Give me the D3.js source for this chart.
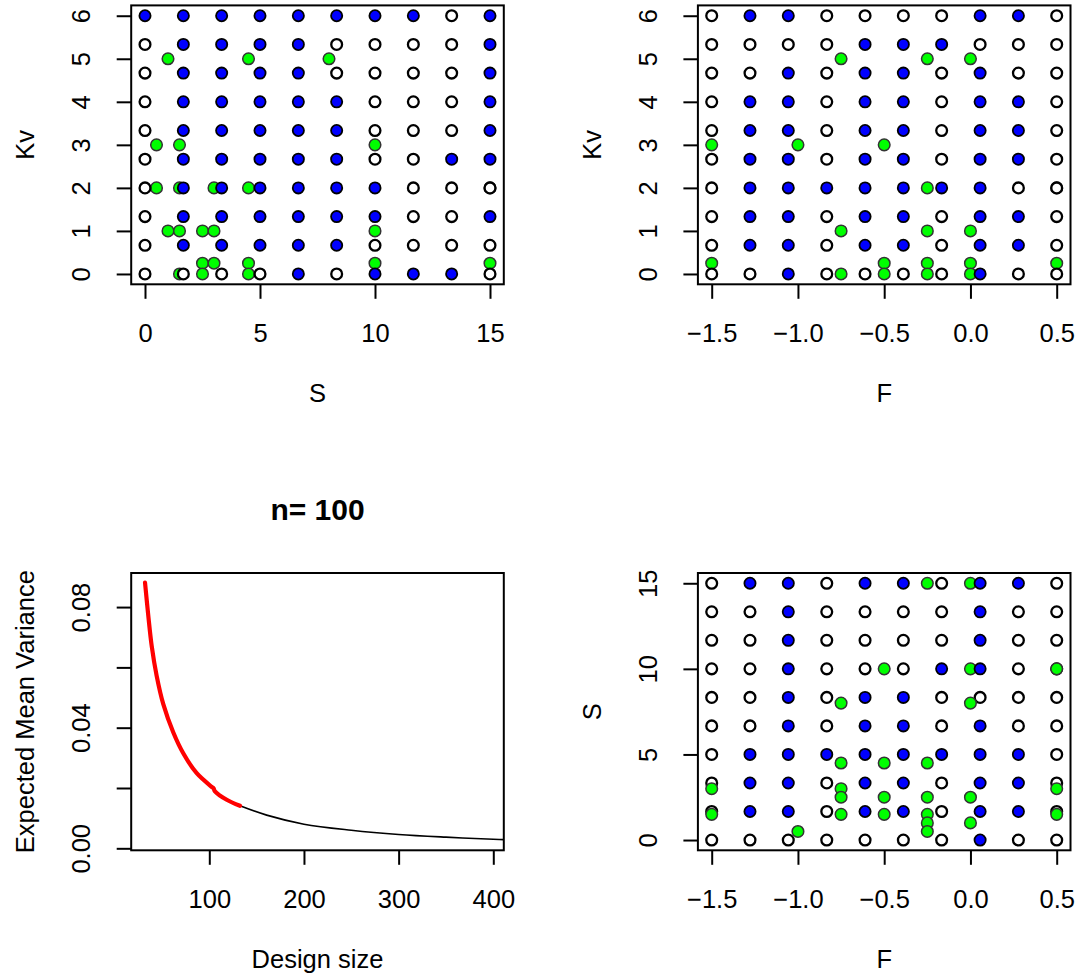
<!DOCTYPE html>
<html>
<head>
<meta charset="utf-8">
<script src="https://cdn.jsdelivr.net/npm/d3@7"></script>
<style>
  body { margin: 0; background: #fff; }
  svg { display: block; font-family: "Liberation Sans", Arial, Helvetica, sans-serif; }
</style>
</head>
<body>
<svg id="chart" width="1078" height="978"></svg>
<script>
// ---------------- data ----------------
const S_LEVELS  = [0, 1.667, 3.333, 5, 6.667, 8.333, 10, 11.667, 13.333, 15];
const KV_LEVELS = [0, 0.667, 1.333, 2, 2.667, 3.333, 4, 4.667, 5.333, 6];
const F_LEVELS  = [-1.5, -1.278, -1.056, -0.833, -0.611, -0.389, -0.167, 0.056, 0.278, 0.5];

// grid state: rows from highest y-level (top) to lowest, columns by x-level; B = blue, W = open
const GRID_S_KV = [
  "BBBBBBBBWB",
  "WBBBBWWWWB",
  "WBBBBWWWWB",
  "WBBBBBWWWB",
  "WBBBBBWWWB",
  "WBBBBBWWBB",
  "WBBBBBBWWW",
  "WBBBBBBWWB",
  "WBBBBBWWWW",
  "WWWWBWBBBW"
];
const GRID_F_KV = [
  "WBBWWWWBBW",
  "WWWWBBBWWW",
  "WWBWBBWBWW",
  "WBBWBBWBBW",
  "WBBWBBWBBW",
  "WBBWBBWBBW",
  "WBBBBBBBWW",
  "WBBWBBWBBW",
  "WBBWBBWBBW",
  "WWBWWWWBWW"
];
const GRID_F_S = [
  "WBBWBBWBBW",
  "WWBWWWWBWW",
  "WWBWWWWBWW",
  "WWBWWWBBWW",
  "WWBWBBWWWW",
  "WWBWBBWBWW",
  "WBBBBBBBBW",
  "WBBWBBWBBW",
  "WBBWBBWBBW",
  "WWWWWWWBWW"
];

// design points (green)
const GREEN_S_KV = [[1,5],[4.5,5],[8,5],[0.5,3],[1.5,3],[10,3],[0.5,2],[1.5,2],[3,2],[4.5,2],[15,2],
  [1,1],[1.5,1],[2.5,1],[3,1],[10,1],[2.5,0.25],[3,0.25],[4.5,0.25],[10,0.25],[15,0.25],[1.5,0],[2.5,0],[4.5,0]];
const GREEN_F_KV = [[-0.75,5],[-0.25,5],[0,5],[-1.5,3],[-1,3],[-0.5,3],[-0.25,2],[0.5,2],[-0.75,1],[-0.25,1],[0,1],
  [-1.5,0.25],[-0.5,0.25],[-0.25,0.25],[0,0.25],[0.5,0.25],[-0.75,0],[-0.5,0],[-0.25,0],[0,0]];
const GREEN_F_S = [[-0.25,15],[0,15],[-0.5,10],[0,10],[0.5,10],[-0.75,8],[0,8],[-0.75,4.5],[-0.5,4.5],[-0.25,4.5],
  [-1.5,3],[-0.75,3],[0.5,3],[-0.75,2.5],[-0.5,2.5],[-0.25,2.5],[0,2.5],[-1.5,1.5],[-0.75,1.5],[-0.5,1.5],
  [-0.25,1.5],[0.5,1.5],[-1,0.5],[-0.25,1],[0,1],[-0.25,0.5]];

// variance curve
const RED_N = [32.1, 35.6, 39.2, 44.4, 51.4, 62.0, 72.5, 86.7, 102.5, 104.5, 106, 118.4, 132.4];
const RED_V = [0.0881, 0.0770, 0.0670, 0.0572, 0.0478, 0.0384, 0.0315, 0.0249, 0.0204, 0.0199, 0.0189, 0.0161, 0.0141];
const BLACK_N = [132.4, 160.6, 200, 250, 300, 350, 400, 420];
const BLACK_V = [0.0141, 0.0110, 0.0080, 0.0060, 0.0046, 0.0037, 0.0030, 0.0028];

const TICKS_S  = [0, 5, 10, 15];
const TICKS_KV = [0, 1, 2, 3, 4, 5, 6];
const TICKS_F  = [-1.5, -1.0, -0.5, 0.0, 0.5];
const TICKS_N  = [100, 200, 300, 400];
const TICKS_V  = [0, 0.02, 0.04, 0.06, 0.08];
const LABELS_V = {0: "0.00", 0.04: "0.04", 0.08: "0.08"};

// ---------------- layout ----------------
const svg = d3.select("#chart");
svg.append("rect").attr("width", 1078).attr("height", 978).attr("fill", "#fff");
const COLX = [[131.2, 503.8], [697.9, 1070.5]];
const ROWY = [[5.4, 284.3], [573, 850.3]];
const FS = 25.5;
const TICK = 14.5;

function drawAxes(g, x, y, xt, yt, xfmt, yfmt, xlab, ylab, box) {
  const [x0, x1] = box.x, [y0, y1] = box.y;
  const ax = g.append("g").attr("transform", `translate(0,${y1})`)
    .call(d3.axisBottom(x).tickValues(xt).tickSize(TICK).tickPadding(57.5 - TICK - 0.71 * FS).tickFormat(xfmt));
  ax.select(".domain").remove();
  ax.selectAll("line").attr("stroke", "#000").attr("stroke-width", 2);
  ax.selectAll("text").attr("font-size", FS).attr("fill", "#000").attr("font-family", null);
  const ay = g.append("g").attr("transform", `translate(${x0},0)`)
    .call(d3.axisLeft(y).tickValues(yt).tickSize(TICK).tickFormat(yfmt));
  ay.select(".domain").remove();
  ay.selectAll("line").attr("stroke", "#000").attr("stroke-width", 2);
  ay.selectAll("text").attr("font-size", FS).attr("fill", "#000").attr("font-family", null)
    .attr("x", 0).attr("y", -41).attr("dy", null).attr("text-anchor", "middle")
    .attr("transform", "rotate(-90)");
  g.append("text").attr("x", (x0 + x1) / 2).attr("y", y1 + 118).attr("text-anchor", "middle")
    .attr("font-size", FS).text(xlab);
  g.append("text").attr("transform", `translate(${x0 - 97},${(y0 + y1) / 2}) rotate(-90)`)
    .attr("text-anchor", "middle").attr("font-size", FS).text(ylab);
  g.append("rect").attr("x", x0).attr("y", y0).attr("width", x1 - x0).attr("height", y1 - y0)
    .attr("fill", "none").attr("stroke", "#000").attr("stroke-width", 2);
}

function gridPoints(grid, xl, yl) {
  const pts = [];
  grid.forEach((row, ri) => {
    const yv = yl[yl.length - 1 - ri];
    row.split("").forEach((c, ci) => pts.push({x: xl[ci], y: yv, c}));
  });
  return pts;
}

function scatterPanel(col, row, xDom, yDom, xl, yl, grid, greens, xt, yt, xfmt, xlab, ylab, order) {
  const box = {x: COLX[col], y: ROWY[row]};
  const x = d3.scaleLinear().domain(xDom).range(box.x);
  const y = d3.scaleLinear().domain(yDom).range([box.y[1], box.y[0]]);
  const g = svg.append("g");
  const pts = gridPoints(grid, xl, yl);
  const layers = {
    W: () => g.append("g").selectAll("circle").data(pts.filter(p => p.c === "W")).join("circle")
      .attr("cx", d => x(d.x)).attr("cy", d => y(d.y)).attr("r", 5.4)
      .attr("fill", "#fff").attr("stroke", "#000").attr("stroke-width", 2.3),
    B: () => g.append("g").selectAll("circle").data(pts.filter(p => p.c === "B")).join("circle")
      .attr("cx", d => x(d.x)).attr("cy", d => y(d.y)).attr("r", 5.6)
      .attr("fill", "#0000ff").attr("stroke", "#000").attr("stroke-width", 1.8),
    G: () => g.append("g").selectAll("circle").data(greens).join("circle")
      .attr("cx", d => x(d[0])).attr("cy", d => y(d[1])).attr("r", 5.8)
      .attr("fill", "#00ff00").attr("stroke", "#333").attr("stroke-width", 1.5)
  };
  order.forEach(k => layers[k]());
  drawAxes(g, x, y, xt, yt, xfmt, d3.format("d"), xlab, ylab, box);
}

const fmtF = d3.format(".1f");
const fmtInt = d3.format("d");
const fmtMinus = d => fmtF(d).replace("-", "\u2212");

scatterPanel(0, 0, [-0.6, 15.6], [-0.24, 6.24], S_LEVELS, KV_LEVELS, GRID_S_KV, GREEN_S_KV,
  TICKS_S, TICKS_KV, fmtInt, "S", "Kv", ["G", "W", "B"]);
scatterPanel(1, 0, [-1.58, 0.58], [-0.24, 6.24], F_LEVELS, KV_LEVELS, GRID_F_KV, GREEN_F_KV,
  TICKS_F, TICKS_KV, fmtMinus, "F", "Kv", ["G", "W", "B"]);
scatterPanel(1, 1, [-1.58, 0.58], [-0.6, 15.6], F_LEVELS, S_LEVELS, GRID_F_S, GREEN_F_S,
  TICKS_F, TICKS_S, fmtMinus, "F", "S", ["W", "G", "B"]);

// ---------------- variance panel ----------------
(function () {
  const box = {x: COLX[0], y: ROWY[1]};
  const x = d3.scaleLinear().domain([17.5, 411.1]).range(box.x);
  const y = d3.scaleLinear().domain([-0.00066, 0.0913]).range([box.y[1], box.y[0]]);
  const g = svg.append("g");
  svg.append("defs").append("clipPath").attr("id", "clip3").append("rect")
    .attr("x", box.x[0]).attr("y", box.y[0]).attr("width", box.x[1] - box.x[0]).attr("height", box.y[1] - box.y[0]);
  const line = d3.line().x(d => x(d[0])).y(d => y(d[1])).curve(d3.curveCatmullRom.alpha(0.5));
  const cg = g.append("g").attr("clip-path", "url(#clip3)");
  cg.append("path").datum(BLACK_N.map((n, i) => [n, BLACK_V[i]])).attr("d", line)
    .attr("fill", "none").attr("stroke", "#000").attr("stroke-width", 1.6);
  cg.append("path").datum(RED_N.map((n, i) => [n, RED_V[i]])).attr("d", line)
    .attr("fill", "none").attr("stroke", "#ff0000").attr("stroke-width", 4.2).attr("stroke-linecap", "round");
  drawAxes(g, x, y, TICKS_N, TICKS_V, fmtInt, d => LABELS_V[d] || "", "Design size", "Expected Mean Variance", box);
  g.append("text").attr("x", (box.x[0] + box.x[1]) / 2).attr("y", 520).attr("text-anchor", "middle")
    .attr("font-size", 30).attr("font-weight", "bold").text("n= 100");
})();
</script>
</body>
</html>
